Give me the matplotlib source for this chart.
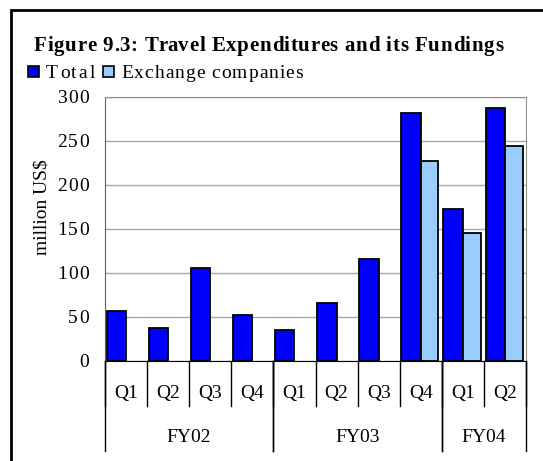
import matplotlib.pyplot as plt
from matplotlib.patches import Rectangle
from matplotlib.font_manager import FontProperties
import numpy as np

# Data
quarters = ["Q1", "Q2", "Q3", "Q4", "Q1", "Q2", "Q3", "Q4", "Q1", "Q2"]
years = ["FY02", "FY03", "FY04"]
year_spans = [(0, 3), (4, 7), (8, 9)]
total = [56, 37, 105, 52, 35, 65, 116, 281, 172, 287]
exchange = [0, 0, 0, 0, 0, 0, 0, 227, 145, 244]
yticks = [0, 50, 100, 150, 200, 250, 300]

FONT = "Liberation Serif"
plt.rcParams["font.family"] = [FONT, "DejaVu Serif"]
BLUE, LIGHT = "#0000FF", "#99CCFF"

W, H = 543, 461
fig = plt.figure(figsize=(W / 100, H / 100), dpi=100)
renderer = fig.canvas.get_renderer()


def advance(p, fp):
    # width of p including trailing spaces, measured between two bars
    w1 = renderer.get_text_width_height_descent("|" + p + "|", fp, ismath=False)[0]
    w0 = renderer.get_text_width_height_descent("||", fp, ismath=False)[0]
    return w1 - w0


def spaced_text(x, y, s, size, track=0.0, x_end=None, ha="left", weight="normal"):
    # Excel-style letter spaced text, x/y in pixels from the top left, y is the baseline
    fp = FontProperties(family=FONT, size=size, weight=weight)
    natural = advance(s, fp)
    if x_end is not None:
        track = (x_end - x - natural) / (len(s) - 1)
    width = natural + track * (len(s) - 1)
    x0 = x - width if ha == "right" else x
    for i, c in enumerate(s):
        if c == " ":
            continue
        cx = x0 + advance(s[:i], fp) + i * track
        fig.text(cx / W, 1 - y / H, c, fontproperties=fp, ha="left", va="baseline")


# outer frame of the chart object
fig.patches.append(Rectangle((11 / W, -0.1), 1.2, 1 - 10 / H + 0.1,
                             transform=fig.transFigure, fill=False,
                             edgecolor="black", linewidth=2, zorder=0))

left, right, bottom, top = 105 / W, 526 / W, 1 - 360.7 / H, 1 - 96.7 / H
ax = fig.add_axes([left, bottom, right - left, top - bottom])

x = np.arange(len(quarters))
ex = np.array(exchange)
ax.bar(x - 0.23, total, width=0.46, color=BLUE, edgecolor="black",
       linewidth=1.3, zorder=3)
ax.bar(x[ex > 0] + 0.21, ex[ex > 0], width=0.42, color=LIGHT,
       edgecolor="black", linewidth=1.3, zorder=3)

ax.set_xlim(-0.5, len(quarters) - 0.5)
ax.set_ylim(0, 300)
ax.set_yticks(yticks)
ax.set_yticklabels([])
ax.yaxis.grid(True, color="#A8A8A8", linewidth=1)
ax.set_axisbelow(True)
ax.tick_params(axis="y", length=0)
ax.set_xticks([])
for s in ["top", "right"]:
    ax.spines[s].set_color("#909090")
ax.spines["left"].set_color("#606060")
ax.spines["bottom"].set_color("black")

# y tick labels
for v in yticks:
    _, ypix = ax.transData.transform((0, v))
    spaced_text(88.5, H - ypix + 6.5, str(v), 14, track=1.0, ha="right")

fig.text(42 / W, 1 - 207 / H, "million US$", rotation=90, ha="center",
         va="center", fontsize=14)

# two-level category axis
tr = ax.get_xaxis_transform()
for b in np.arange(-0.5, len(quarters), 1.0):
    ax.plot([b, b], [0, -0.170], transform=tr, color="black", lw=1, clip_on=False)
for i, q in enumerate(quarters):
    ax.text(i, -0.142, q, transform=tr, ha="center", va="baseline", fontsize=14)
for (a, b), yr in zip(year_spans, years):
    ax.plot([a - 0.5, a - 0.5], [0, -0.342], transform=tr, color="black", lw=1, clip_on=False)
    ax.plot([b + 0.5, b + 0.5], [0, -0.342], transform=tr, color="black", lw=1, clip_on=False)
    ax.text((a + b) / 2, -0.307, yr, transform=tr, ha="center", va="baseline", fontsize=14)

# title
spaced_text(34, 51, "Figure 9.3: Travel Expenditures and its Fundings", 15,
            x_end=503, weight="bold")

# legend
for (x0, x1, tx0, tx1), label, col in zip([(28, 39, 46, 95), (103, 114, 121, 303)],
                                         ["Total", "Exchange companies"], [BLUE, LIGHT]):
    fig.patches.append(Rectangle((x0 / W, 1 - 77.5 / H), (x1 - x0) / W, 11 / H,
                                 transform=fig.transFigure, facecolor=col,
                                 edgecolor="black", linewidth=1.2))
    spaced_text(tx0, 78, label, 14, x_end=tx1)

fig.savefig("out.png", dpi=100)
